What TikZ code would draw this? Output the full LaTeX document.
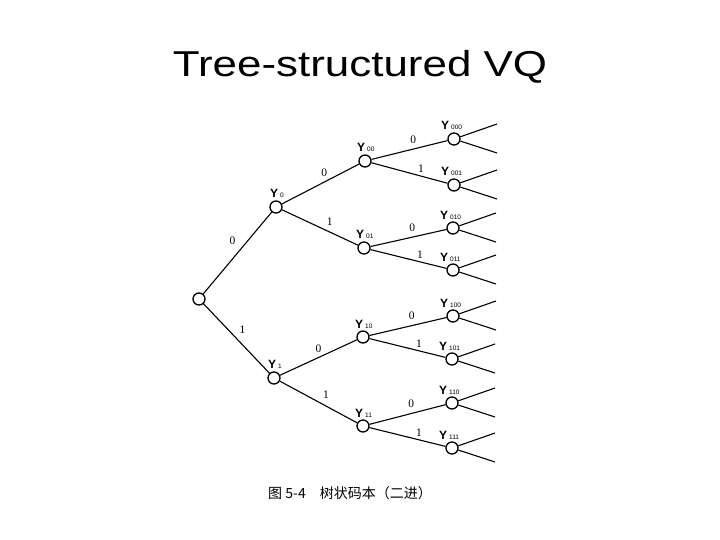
\documentclass[tikz,border=0pt]{standalone}
\usepackage{fontspec}
\setmainfont{Liberation Sans}
\newfontfamily\cjk{Noto Sans CJK SC}
\newfontfamily\serifnum{Liberation Serif}
\usetikzlibrary{calc}
\begin{document}
\begin{tikzpicture}[x=1pt,y=-1pt,
 nd/.style={circle,draw,line width=1.3pt,minimum size=12pt,inner sep=0pt},
 edge/.style={line width=1.1pt},
 bit/.style={font=\serifnum\fontsize{11.5}{11.5}\selectfont,inner sep=1pt},
 ylab/.style={anchor=base west,inner sep=0pt,font=\fontsize{12}{12}\selectfont},
 sub/.style={}]
\useasboundingbox (0,0) rectangle (720,540);
\node[xscale=1.22] (title) at (360,67) {\fontsize{36}{40}\selectfont Tree-structured VQ};
% nodes
\node[nd] (r) at (199,299) {};
\node[nd] (y0) at (276,207) {};
\node[nd] (y1) at (274,378) {};
\node[nd] (y00) at (365,161) {};
\node[nd] (y01) at (364,248) {};
\node[nd] (y10) at (363,337) {};
\node[nd] (y11) at (363,426) {};
\node[nd] (y000) at (454,139) {};
\node[nd] (y001) at (454,185) {};
\node[nd] (y010) at (453,228) {};
\node[nd] (y011) at (453,270) {};
\node[nd] (y100) at (453,316) {};
\node[nd] (y101) at (452,359) {};
\node[nd] (y110) at (452,403) {};
\node[nd] (y111) at (452,448) {};
% edges
\draw[edge] (r) -- node[bit,pos=0.5,xshift=-5pt,yshift=12pt] {0} (y0);
\draw[edge] (r) -- node[bit,pos=0.5,xshift=6pt,yshift=9pt] {1} (y1);
\draw[edge] (y0) -- node[bit,pos=0.55,above=4pt] {0} (y00);
\draw[edge] (y0) -- node[bit,pos=0.55,xshift=6pt,yshift=8pt] {1} (y01);
\draw[edge] (y1) -- node[bit,pos=0.5,above=3pt] {0} (y10);
\draw[edge] (y1) -- node[bit,pos=0.52,xshift=6pt,yshift=8pt] {1} (y11);
\foreach \p in {00,01,10,11}{
  \draw[edge] (y\p) -- node[bit,pos=0.55,above=4pt] {0} (y\p0);
  \draw[edge] (y\p) -- node[bit,pos=0.65,above=2pt] {1} (y\p1);
}
\foreach \l in {000,001,010,011,100,101,110,111}{
  \coordinate (u\l) at ($(y\l)+(43,-15)$);
  \coordinate (d\l) at ($(y\l)+(43,14)$);
  \draw[edge] (y\l) -- (u\l);
  \draw[edge] (y\l) -- (d\l);
  \node[ylab] at ($(y\l)+(-13,-9)$) {\textbf{Y}\,{\fontsize{6.5}{6.5}\selectfont\l}};
}
\foreach \l in {0,1}{
  \node[ylab] at ($(y\l)+(-6,-10)$) {\textbf{Y}\,{\fontsize{6.5}{6.5}\selectfont\l}};
}
\foreach \l in {00,01,10,11}{
  \node[ylab] at ($(y\l)+(-8,-9)$) {\textbf{Y}\,{\fontsize{6.5}{6.5}\selectfont\l}};
}
\node (cap) at (350,493) {\cjk\fontsize{14}{14}\selectfont 图 5-4\quad 树状码本（二进）};
\end{tikzpicture}
\end{document}
